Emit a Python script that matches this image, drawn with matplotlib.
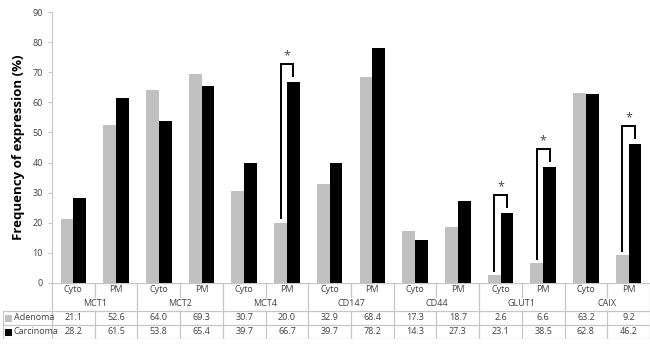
import numpy as np
import matplotlib.pyplot as plt

markers = ["MCT1", "MCT2", "MCT4", "CD147", "CD44", "GLUT1", "CAIX"]
sites = ["Cyto", "PM"]
adenoma = [21.1, 52.6, 64.0, 69.3, 30.7, 20.0, 32.9, 68.4, 17.3, 18.7, 2.6, 6.6, 63.2, 9.2]
carcinoma = [28.2, 61.5, 53.8, 65.4, 39.7, 66.7, 39.7, 78.2, 14.3, 27.3, 23.1, 38.5, 62.8, 46.2]
significant = [5, 10, 11, 13]  # slots marked with *

GRAY = "#c0c0c0"
LINE = "#c6c6c6"
TXT = "#404040"

plt.rcParams['font.family'] = ['Open Sans', 'DejaVu Sans']

fig = plt.figure(figsize=(6.5, 3.58), dpi=100)
ax = fig.add_axes([52 / 650, 1 - 283 / 358, 598 / 650, 271 / 358])
n = len(adenoma)
x = np.arange(n) + 0.5
w = 0.3
ax.bar(x - w / 2, adenoma, w, color=GRAY, linewidth=0)
ax.bar(x + w / 2, carcinoma, w, color="black", linewidth=0)

for i in significant:
    top = carcinoma[i] + 6
    xl = x[i] - w / 2
    xr = x[i] + w / 2
    ax.plot([xl, xl, xr, xr], [adenoma[i] + 1.5, top, top, carcinoma[i] + 2],
            color="black", lw=1.4, solid_joinstyle="miter")
    ax.text((xl + xr) / 2, top + 0.6, "*", ha="center", va="bottom",
            fontsize=9, color="#444444")

ax.set_xlim(0, n)
ax.set_ylim(0, 90)
ax.set_yticks(range(0, 91, 10))
ax.tick_params(axis="y", labelsize=6.5, labelcolor=TXT, color=LINE, length=3, width=0.8)
ax.set_xticks([])
for s in ["top", "right", "bottom"]:
    ax.spines[s].set_visible(False)
ax.spines["left"].set_color(LINE)
ax.set_ylabel("Frequency of expression (%)", fontsize=9.5, fontweight="bold", color="black")
ax.yaxis.set_label_coords(-0.045, 0.50)

# data table under the bars
tx0 = -49 / (598 / n)
tb = fig.add_axes([3 / 650, 1 - 339 / 358, 647 / 650, 56 / 358])
tb.set_xlim(tx0, n)
tb.set_ylim(4, 0)
tb.axis("off")
lk = dict(color=LINE, lw=0.9)
tb.plot([0, n], [0, 0], **lk)
for yy in [2, 3, 4]:
    tb.plot([tx0, n], [yy, yy], **lk)
tb.plot([tx0, tx0], [2, 4], **lk)
for k in range(n + 1):
    if k % 2 == 0:
        tb.plot([k, k], [0, 4], **lk)
    else:
        tb.plot([k, k], [0, 1], **lk)
        tb.plot([k, k], [2, 4], **lk)

fs = 6.5
for i in range(n):
    tb.text(x[i], 0.5, sites[i % 2], ha="center", va="center", fontsize=fs, color=TXT)
    tb.text(x[i], 2.5, f"{adenoma[i]:.1f}", ha="center", va="center", fontsize=fs, color=TXT)
    tb.text(x[i], 3.5, f"{carcinoma[i]:.1f}", ha="center", va="center", fontsize=fs, color=TXT)
for j, m in enumerate(markers):
    tb.text(2 * j + 1, 1.5, m, ha="center", va="center", fontsize=fs, color=TXT)

for row, (lab, col) in enumerate([("Adenoma", GRAY), ("Carcinoma", "black")]):
    yc = 2.5 + row
    tb.add_patch(plt.Rectangle((tx0 + 0.05, yc - 0.25), 0.16, 0.5, color=col, lw=0))
    tb.text(tx0 + 0.25, yc, lab, ha="left", va="center", fontsize=fs, color=TXT)

fig.savefig("out.png", dpi=100)
